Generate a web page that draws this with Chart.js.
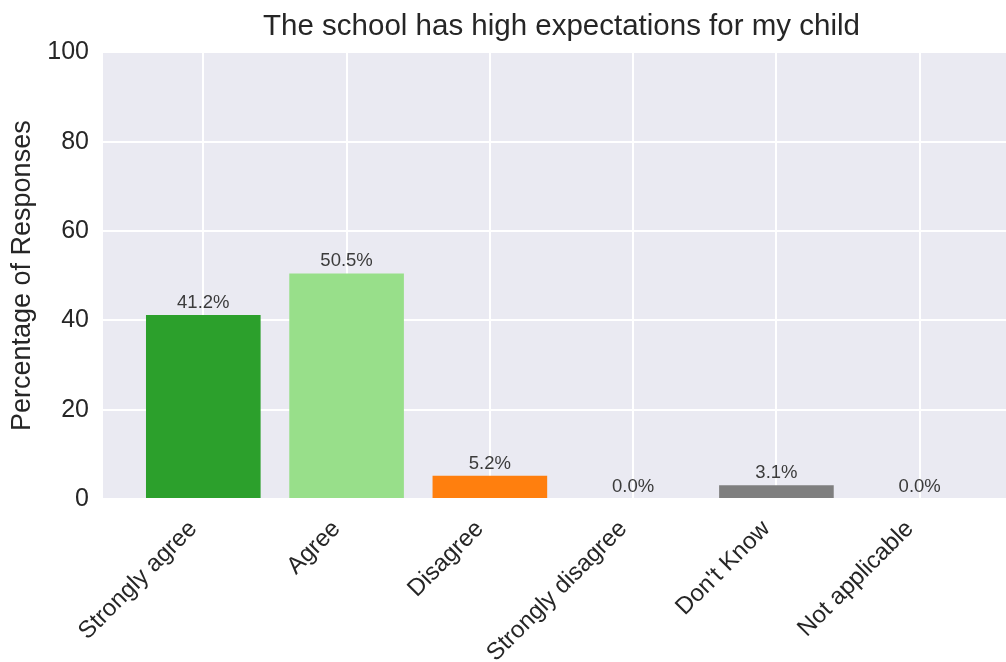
<!DOCTYPE html>
<html>
<head>
<meta charset="utf-8">
<script src="https://cdn.jsdelivr.net/npm/chart.js@4"></script>
<style>
  html, body { margin: 0; padding: 0; background: #fff; overflow: hidden; }
  #wrap { width: 1020px; height: 662px; }
</style>
</head>
<body>
<div id="wrap"><canvas id="chart" width="1020" height="662"></canvas></div>
<script>
// data
const categories = ["Strongly agree", "Agree", "Disagree", "Strongly disagree", "Don't Know", "Not applicable"];
const percentages = [41.2, 50.5, 5.2, 0.0, 3.1, 0.0];
const barColors = ["#2ca02c", "#98df8a", "#ff7f0e", "#d62728", "#7f7f7f", "#c7c7c7"];
const yTicks = [0, 20, 40, 60, 80, 100];

const FONT = "'Liberation Sans', Arial, sans-serif";
const TEXT = "#262626";

// seaborn-style grey panel behind the plot
const panelBg = {
    id: 'panelBg',
    beforeDraw(chart) {
        const a = chart.chartArea, ctx = chart.ctx;
        ctx.save();
        ctx.fillStyle = "#eaeaf2";
        ctx.fillRect(a.left, a.top, a.right - a.left, a.bottom - a.top);
        ctx.restore();
    }
};

// percentage text above each bar
const barLabels = {
    id: 'barLabels',
    afterDatasetsDraw(chart) {
        const ctx = chart.ctx;
        const meta = chart.getDatasetMeta(0);
        ctx.save();
        ctx.font = "18.5px " + FONT;
        ctx.fillStyle = "#3b3b3b";
        ctx.textAlign = "center";
        ctx.textBaseline = "alphabetic";
        meta.data.forEach((bar, i) => {
            ctx.fillText(percentages[i].toFixed(1) + "%", bar.x, bar.y - 7);
        });
        ctx.restore();
    }
};

new Chart(document.getElementById('chart').getContext('2d'), {
    type: 'bar',
    data: {
        datasets: [{
            data: percentages.map((v, i) => ({ x: i, y: v })),
            backgroundColor: barColors,
            borderWidth: 0,
            categoryPercentage: 1.0,
            barPercentage: 0.8
        }]
    },
    options: {
        responsive: false,
        animation: false,
        layout: { padding: 0 },
        plugins: {
            legend: { display: false },
            tooltip: { enabled: false },
            title: {
                display: true,
                text: "The school has high expectations for my child",
                color: TEXT,
                fullSize: false,
                font: { family: FONT, size: 29.5, weight: 'normal' },
                padding: { top: 9.5, bottom: 7.5 }
            }
        },
        scales: {
            x: {
                type: 'linear',
                offset: false,
                min: -0.7,
                max: 5.7,
                afterBuildTicks(scale) {
                    scale.ticks = categories.map((c, i) => ({ value: i }));
                },
                afterFit(scale) { scale.height = 163; },
                border: { display: false },
                grid: { color: "#ffffff", lineWidth: 2, drawTicks: false, offset: false },
                ticks: {
                    autoSkip: false,
                    minRotation: 45,
                    maxRotation: 45,
                    padding: 16,
                    labelOffset: -10,
                    color: TEXT,
                    font: { family: FONT, size: 24 },
                    callback: (v) => categories[v]
                }
            },
            y: {
                min: 0,
                max: 100,
                afterBuildTicks(scale) {
                    scale.ticks = yTicks.map(v => ({ value: v }));
                },
                afterFit(scale) { scale.width = 103; },
                border: { display: false },
                grid: { color: "#ffffff", lineWidth: 2, drawTicks: false },
                ticks: {
                    padding: 14,
                    color: TEXT,
                    font: { family: FONT, size: 25 }
                },
                title: {
                    display: true,
                    text: "Percentage of Responses",
                    color: TEXT,
                    font: { family: FONT, size: 27 },
                    padding: { top: 6, bottom: 0 }
                }
            }
        }
    },
    plugins: [panelBg, barLabels]
});
</script>
</body>
</html>
